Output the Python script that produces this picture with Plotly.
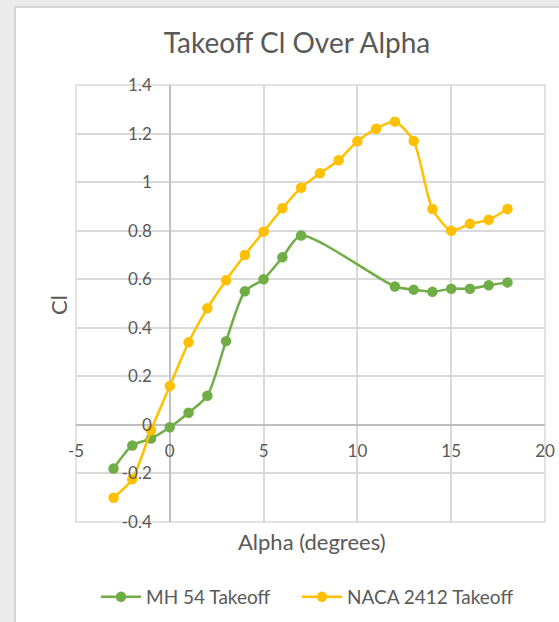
import plotly.graph_objects as go

# ---- data ----
alpha_mh54 = [-3, -2, -1, 0, 1, 2, 3, 4, 5, 6, 7, 12, 13, 14, 15, 16, 17, 18]
cl_mh54 = [-0.18, -0.085, -0.056, -0.01, 0.05, 0.12, 0.345, 0.55, 0.6, 0.69, 0.78,
           0.57, 0.557, 0.548, 0.561, 0.561, 0.575, 0.587]
alpha_naca = [-3, -2, -1, 0, 1, 2, 3, 4, 5, 6, 7, 8, 9, 10, 11, 12, 13, 14, 15, 16, 17, 18]
cl_naca = [-0.30, -0.224, -0.022, 0.16, 0.34, 0.48, 0.596, 0.70, 0.796, 0.892, 0.977,
           1.036, 1.09, 1.168, 1.22, 1.249, 1.169, 0.889, 0.80, 0.828, 0.845, 0.889]
x_tickvals = [-5, 0, 5, 10, 15, 20]
x_ticktext = ["-5", "0", "5", "10", "15", "20"]
y_tickvals = [-0.4, -0.2, 0, 0.2, 0.4, 0.6, 0.8, 1.0, 1.2, 1.4]
y_ticktext = ["-0.4", "-0.2", "0", "0.2", "0.4", "0.6", "0.8", "1", "1.2", "1.4"]

W, H = 559, 622
L, R, T, B = 76, 14, 85, 100
PW, PH = W - L - R, H - T - B
XR = [-5, 20]
YR = [-0.4, 1.4]
FONT = "Lato"
GREY = "#595959"
GRID = "#d9d9d9"


def px_x(px):
    return (px - L) / PW


def px_y(py):
    return (H - B - py) / PH


fig = go.Figure()
fig.add_trace(go.Scatter(
    x=alpha_mh54, y=cl_mh54, name="MH 54 Takeoff", mode="lines+markers",
    line=dict(color="#70AD47", width=2.5, shape="spline", smoothing=0.7),
    marker=dict(color="#70AD47", size=10.5), legend="legend"))
fig.add_trace(go.Scatter(
    x=alpha_naca, y=cl_naca, name="NACA 2412 Takeoff", mode="lines+markers",
    line=dict(color="#FFC000", width=2.5, shape="spline", smoothing=0.7),
    marker=dict(color="#FFC000", size=10.5), legend="legend2"))

legend_common = dict(orientation="h", xref="container", xanchor="left",
                     y=1 - 597 / H, yref="container", yanchor="middle", itemwidth=40,
                     font=dict(family=FONT, size=19, color=GREY),
                     bgcolor="rgba(0,0,0,0)")

fig.update_layout(
    width=W, height=H,
    margin=dict(l=L, r=R, t=T, b=B, autoexpand=False),
    paper_bgcolor="#ebebeb",
    plot_bgcolor="white",
    font=dict(family=FONT, color=GREY, size=17),
    title=dict(text="Takeoff Cl Over Alpha", x=297 / W, xanchor="center",
               xref="container", y=1 - 43 / H, yref="container", yanchor="middle",
               font=dict(family=FONT, size=28, color=GREY)),
    showlegend=True,
    legend=dict(x=96 / W, **legend_common),
    legend2=dict(x=297 / W, **legend_common),
    xaxis=dict(range=XR, tickvals=x_tickvals, ticktext=x_ticktext, showgrid=True,
               gridcolor=GRID, gridwidth=1.5, zeroline=True, zerolinecolor="#bfbfbf",
               zerolinewidth=1.5, anchor="free", automargin=False,
               position=(0 - YR[0]) / (YR[1] - YR[0]), ticks="",
               ticklabelstandoff=14, tickfont=dict(size=17, color=GREY)),
    yaxis=dict(range=YR, tickvals=y_tickvals, ticktext=y_ticktext, showgrid=True,
               gridcolor=GRID, gridwidth=1.5, zeroline=True, zerolinecolor="#bfbfbf",
               zerolinewidth=1.5, anchor="free", automargin=False,
               position=(0 - XR[0]) / (XR[1] - XR[0]), ticks="",
               ticklabelstandoff=18, tickfont=dict(size=17, color=GREY)),
    shapes=[
        # white chart area over the grey surround
        dict(type="rect", xref="paper", yref="paper", x0=px_x(15), x1=px_x(W + 5),
             y0=px_y(H + 5), y1=px_y(7), fillcolor="white",
             line=dict(color="#d4d4d4", width=2), layer="below"),
        # plot area frame
        dict(type="rect", xref="x domain", yref="y domain", x0=0, x1=1, y0=0, y1=1,
             line=dict(color=GRID, width=1.5), layer="below"),
    ],
    annotations=[
        dict(text="Cl", xref="paper", yref="paper", x=px_x(58), y=px_y(305),
             textangle=-90, showarrow=False, xanchor="center", yanchor="middle",
             font=dict(family=FONT, size=22, color=GREY)),
        dict(text="Alpha (degrees)", xref="paper", yref="paper", x=px_x(312),
             y=px_y(541), showarrow=False, xanchor="center", yanchor="middle",
             font=dict(family=FONT, size=22, color=GREY)),
    ],
)

fig.write_html("out.html")
